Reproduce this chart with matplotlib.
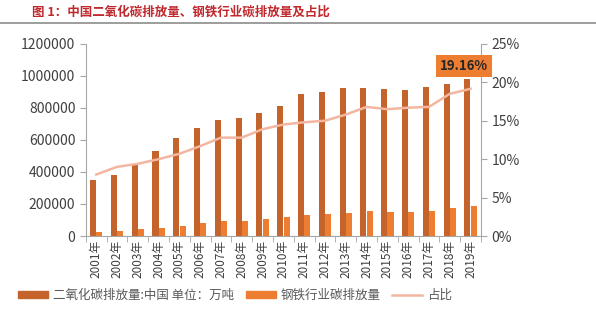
import numpy as np
import matplotlib.pyplot as plt
from matplotlib.lines import Line2D
from matplotlib.patches import Patch
from matplotlib.ticker import FuncFormatter

plt.rcParams['font.family'] = ['Noto Sans CJK SC', 'DejaVu Sans']

# 年份与数据（单位：万吨）
years = ['2001年', '2002年', '2003年', '2004年', '2005年', '2006年', '2007年',
         '2008年', '2009年', '2010年', '2011年', '2012年', '2013年', '2014年',
         '2015年', '2016年', '2017年', '2018年', '2019年']
co2_china = [350000, 381000, 444000, 531000, 612000, 675000, 725000, 737000,
             768000, 812000, 887000, 900000, 925000, 925000, 919000, 912000,
             931000, 950000, 980000]
co2_steel = [28000, 34000, 42000, 53000, 65000, 79000, 93000, 94000,
             107000, 118000, 131000, 135000, 146000, 155000, 152000, 152000,
             158000, 176000, 187800]
share = [8.0, 9.0, 9.4, 10.0, 10.7, 11.7, 12.8, 12.8, 13.9, 14.5, 14.8, 15.0,
         15.8, 16.8, 16.5, 16.7, 16.8, 18.5, 19.16]

dark = '#c4632b'
light = '#ed7d31'
line_c = '#f4b6a0'
axis_c = '#a6a6a6'
text_c = '#404040'

fig = plt.figure(figsize=(5.96, 3.35), dpi=100)
ax = fig.add_axes([0.144, 0.2955, 0.663, 0.5735])
ax2 = ax.twinx()

x = np.arange(len(years))
w = 0.29
ax.bar(x - 0.15, co2_china, width=w, color=dark, zorder=2)
ax.bar(x + 0.15, co2_steel, width=w, color=light, zorder=2)
ax2.plot(x, share, color=line_c, lw=1.8, zorder=3)

ax.set_xlim(-0.5, len(years) - 0.5)
ax.set_ylim(0, 1200000)
ax.set_yticks(np.arange(0, 1200001, 200000))
ax.yaxis.set_major_formatter(FuncFormatter(lambda v, p: f'{v:.0f}'))
ax2.set_ylim(0, 25)
ax2.set_yticks(np.arange(0, 26, 5))
ax2.yaxis.set_major_formatter(FuncFormatter(lambda v, p: f'{v:.0f}%'))

ax.set_xticks(x)
ax.set_xticklabels(years, rotation=90, fontsize=8.5, color=text_c)
ax.set_xticks(np.arange(-0.5, len(years), 1), minor=True)
ax.tick_params(axis='x', which='major', length=0, pad=3)
ax.tick_params(axis='x', which='minor', length=4, color=axis_c)
ax.tick_params(axis='y', labelsize=10, colors=text_c, length=4, color=axis_c)
ax2.tick_params(axis='y', labelsize=10, colors=text_c, length=4, color=axis_c)

for a in (ax, ax2):
    a.spines['top'].set_visible(False)
    for s in ('left', 'right', 'bottom'):
        a.spines[s].set_color(axis_c)
ax.spines['right'].set_visible(False)
ax2.spines['left'].set_visible(False)
ax2.spines['bottom'].set_visible(False)

# 最新占比标签
ax2.annotate(f'{share[-1]:.2f}%', xy=(x[-1], share[-1]), xytext=(-5, 16.5),
             textcoords='offset points', ha='center', va='center',
             fontsize=9.5, fontweight='bold', color='#262626',
             bbox=dict(boxstyle='square,pad=0.3', fc=light, ec='none'),
             zorder=5)

# 标题与分隔线
fig.text(0.054, 0.965, '图 1：中国二氧化碳排放量、钢铁行业碳排放量及占比',
         fontsize=9, fontweight='bold', color='#c0282d', va='center')
fig.add_artist(Line2D([0.0, 1.0], [0.93, 0.93], color='#8c8c8c', lw=1.2,
                      transform=fig.transFigure))

handles = [Patch(color=dark), Patch(color=light),
           Line2D([], [], color=line_c, lw=1.8)]
labels = ['二氧化碳排放量:中国 单位：万吨', '钢铁行业碳排放量', '占比']
fig.legend(handles, labels, loc='center left', bbox_to_anchor=(0.012, 0.118),
           ncol=3, frameon=False, fontsize=9, handlelength=2.4,
           handleheight=0.5, columnspacing=0.9, handletextpad=0.4,
           labelcolor='#595959')

fig.savefig('out.png', dpi=100)
